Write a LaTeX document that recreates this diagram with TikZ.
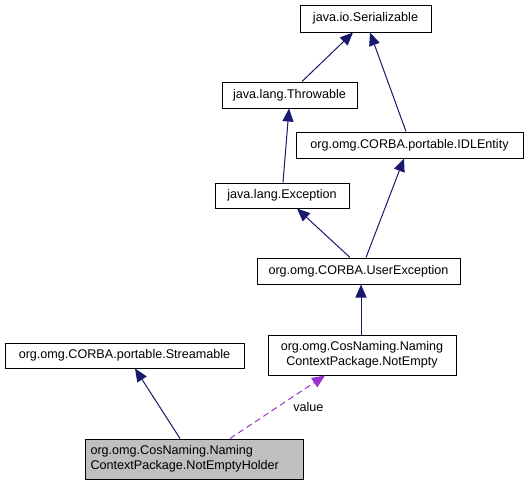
\documentclass[tikz,border=0pt]{standalone}
\usepackage{fontspec}
\setmainfont{Liberation Sans}
\usetikzlibrary{arrows.meta}
\definecolor{edgeblue}{HTML}{191970}
\definecolor{edgepurple}{HTML}{9A32CD}
\definecolor{holdergray}{HTML}{BFBFBF}
\begin{document}
\begin{tikzpicture}[x=1pt,y=-1pt,
  cls/.style={draw=black,line width=1pt,fill=white,inner sep=0pt,font=\fontsize{12.6}{15}\selectfont},
  inh/.style={draw=edgeblue,line width=1pt,-{Triangle[length=13pt,width=11pt]}},
  use/.style={draw=edgepurple,line width=1pt,dash pattern=on 6pt off 4pt,-{Triangle[length=13pt,width=11pt]}}]
\useasboundingbox (0,0) rectangle (529,485);
\node[cls,minimum width=131pt,minimum height=27pt] (ser) at (365.5,18.5) {java.io.Serializable};
\node[cls,minimum width=135pt,minimum height=26pt] (thr) at (289.5,95) {java.lang.Throwable};
\node[cls,minimum width=227pt,minimum height=26pt] (idl) at (409.5,145) {org.omg.CORBA.portable.IDLEntity};
\node[cls,minimum width=134pt,minimum height=25pt] (exc) at (282,195.5) {java.lang.Exception};
\node[cls,minimum width=203pt,minimum height=26pt] (ue) at (358.5,271) {org.omg.CORBA.UserException};
\node[cls,minimum width=239pt,minimum height=25pt] (str) at (124.5,355.5) {org.omg.CORBA.portable.Streamable};
\node[cls,minimum width=188pt,minimum height=40pt,align=center] (ne) at (362,355) {org.omg.CosNaming.Naming\\ContextPackage.NotEmpty};
\node[cls,fill=holdergray,minimum width=218pt,minimum height=40pt,align=left,text width=207pt] (hold) at (194,459) {org.omg.CosNaming.Naming\\ContextPackage.NotEmptyHolder};
\draw[inh] ([xshift=12.5pt]thr.north) -- ([xshift=-12.5pt]ser.south);
\draw[inh] ([xshift=-3.5pt]idl.north) -- ([xshift=4.5pt]ser.south);
\draw[inh] ([xshift=1pt]exc.north) -- ([xshift=-0.5pt]thr.south);
\draw[inh] ([xshift=-8.5pt]ue.north) -- ([xshift=15pt]exc.south);
\draw[inh] ([xshift=7.5pt]ue.north) -- ([xshift=-5.5pt]idl.south);
\draw[inh] ([xshift=-1pt]ne.north) -- ([xshift=2.5pt]ue.south);
\draw[inh] ([xshift=-14pt]hold.north) -- ([xshift=10.5pt]str.south);
\draw[use] ([xshift=36pt]hold.north) -- node[pos=0.5,right=12pt,font=\fontsize{12.6}{15}\selectfont,text=black] (lbl) {value} ([xshift=-37pt]ne.south);
\end{tikzpicture}
\end{document}
